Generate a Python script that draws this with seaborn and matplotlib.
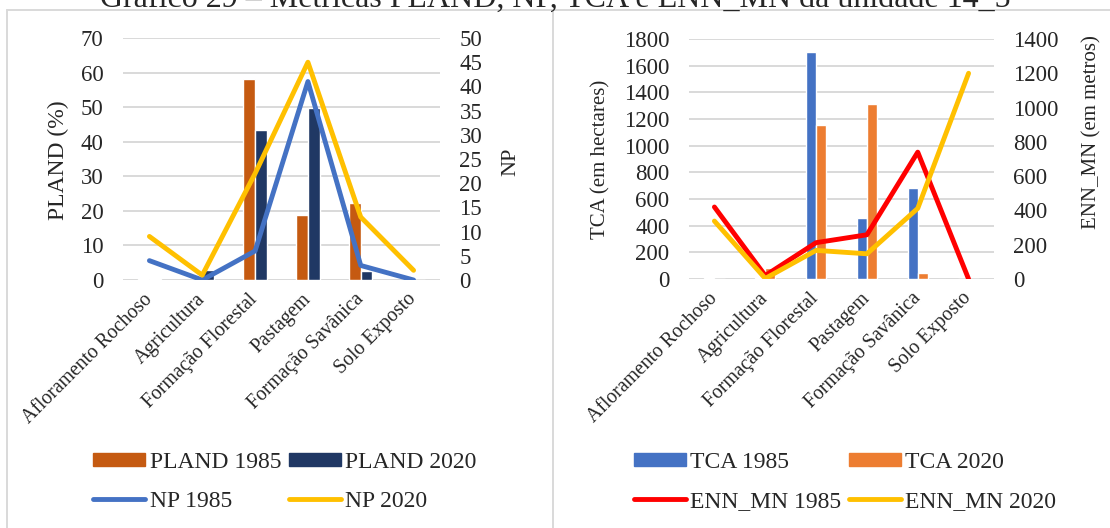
import numpy as np
import pandas as pd
import matplotlib
matplotlib.use("Agg")
import matplotlib.pyplot as plt
from matplotlib.patches import Patch
from matplotlib.lines import Line2D
import seaborn as sns

# ---- data -------------------------------------------------------------
categories = ["Afloramento Rochoso", "Agricultura", "Formação Florestal",
              "Pastagem", "Formação Savânica", "Solo Exposto"]

pland_1985 = [0.4, 0.0, 58.0, 18.8, 22.4, 0.0]
pland_2020 = [0.3, 2.8, 43.5, 49.8, 2.5, 0.0]
np_1985 = [4, 0, 6, 41, 3, 0]
np_2020 = [9, 1, 22, 45, 13, 2]

tca_1985 = [8, 5, 1705, 460, 685, 0]
tca_2020 = [3, 82, 1155, 1315, 43, 0]
enn_1985 = [420, 20, 212, 258, 740, 0]
enn_2020 = [338, 3, 167, 147, 412, 1200]

title = "Gráfico 29 – Métricas PLAND, NP, TCA e ENN_MN da unidade 14_5"

# ---- styling ------------------------------------------------------------
sns.set_theme(style="white")
plt.rcParams["font.family"] = ["Liberation Serif", "DejaVu Serif"]

C_PL85, C_PL20 = "#C55A11", "#203864"
C_BLUE, C_YEL = "#4472C4", "#FFC000"
C_ORG, C_RED = "#ED7D31", "#FF0000"
GRID = "#D9D9D9"
LW = 3.5

W, H = 1110, 528
fig = plt.figure(figsize=(W / 100, H / 100), dpi=100)


def fx(px):
    return px / W


def fy(px):
    return 1 - px / H


def long_frame(vals_a, vals_b, name_a, name_b):
    return pd.DataFrame({
        "categoria": categories * 2,
        "valor": list(vals_a) + list(vals_b),
        "serie": [name_a] * len(categories) + [name_b] * len(categories),
    })


def style_axes(ax, ax2, ymax, ystep, y2max, y2step):
    ax.set_ylim(0, ymax)
    ax.set_yticks(np.arange(0, ymax + 1e-9, ystep))
    ax2.set_ylim(0, y2max)
    ax2.set_yticks(np.arange(0, y2max + 1e-9, y2step))
    ax.set_xlim(-0.5, len(categories) - 0.5)
    ax.yaxis.grid(True, color=GRID, lw=1.4)
    ax.xaxis.grid(False)
    ax.set_axisbelow(True)
    for a in (ax, ax2):
        for s in a.spines.values():
            s.set_visible(False)
    ax.axhline(0, color=GRID, lw=1.4, zorder=0)
    ax.tick_params(axis="y", length=0, pad=14, labelsize=16.5)
    ax2.tick_params(axis="y", length=0, pad=14, labelsize=16.5)
    ax.tick_params(axis="x", length=0, pad=12)
    ax.set_xticks(range(len(categories)))
    ax.set_xticklabels(categories, rotation=45, ha="right", va="center",
                       rotation_mode="anchor", fontsize=14.2)
    ax.set_xlabel("")
    ax2.patch.set_visible(False)


xpos = np.arange(len(categories))

# ---- left panel: PLAND bars + NP lines ---------------------------------
axL = fig.add_axes([fx(123), fy(280), fx(317), 242 / H])
sns.barplot(data=long_frame(pland_1985, pland_2020, "PLAND 1985", "PLAND 2020"),
            x="categoria", y="valor", hue="serie",
            palette=[C_PL85, C_PL20], width=0.44, saturation=1,
            legend=False, ax=axL)
axL2 = axL.twinx()
sns.lineplot(x=xpos, y=np_1985, color=C_BLUE, lw=LW, ax=axL2,
             solid_capstyle="round", solid_joinstyle="round")
sns.lineplot(x=xpos, y=np_2020, color=C_YEL, lw=LW, ax=axL2,
             solid_capstyle="round", solid_joinstyle="round")
style_axes(axL, axL2, 70, 10, 50, 5)
axL.set_ylabel("PLAND (%)", fontsize=17)
axL.yaxis.set_label_coords(-0.205, 0.496)
axL2.set_ylabel("NP", fontsize=16)
axL2.yaxis.set_label_coords(1.224, 0.49)
for lab in (axL.yaxis.label, axL2.yaxis.label):
    lab.set_ha("center")
    lab.set_va("center")

# ---- right panel: TCA bars + ENN_MN lines ------------------------------
axR = fig.add_axes([fx(689), fy(279), fx(305), 240 / H])
sns.barplot(data=long_frame(tca_1985, tca_2020, "TCA 1985", "TCA 2020"),
            x="categoria", y="valor", hue="serie",
            palette=[C_BLUE, C_ORG], width=0.40, saturation=1,
            legend=False, ax=axR)
axR2 = axR.twinx()
sns.lineplot(x=xpos, y=enn_1985, color=C_RED, lw=LW, ax=axR2,
             solid_capstyle="round", solid_joinstyle="round")
sns.lineplot(x=xpos, y=enn_2020, color=C_YEL, lw=LW, ax=axR2,
             solid_capstyle="round", solid_joinstyle="round")
style_axes(axR, axR2, 1800, 200, 1400, 200)
axR.set_ylabel("TCA (em hectares)", fontsize=15)
axR.yaxis.set_label_coords(-0.289, 0.5)
axR2.set_ylabel("ENN_MN (em metros)", fontsize=15)
axR2.yaxis.set_label_coords(1.321, 0.612)
for lab in (axR.yaxis.label, axR2.yaxis.label):
    lab.set_ha("center")
    lab.set_va("center")

# ---- legends -------------------------------------------------------------
leg_kw = dict(ncol=2, frameon=False, loc="center", fontsize=17,
              handlelength=2.2, handleheight=0.45, handletextpad=0.2,
              columnspacing=0.3, labelspacing=0.75, borderpad=0)

hL = [Patch(color=C_PL85), Line2D([], [], color=C_BLUE, lw=LW, solid_capstyle="round"),
      Patch(color=C_PL20), Line2D([], [], color=C_YEL, lw=LW, solid_capstyle="round")]
fig.legend(hL, ["PLAND 1985", "NP 1985", "PLAND 2020", "NP 2020"],
           bbox_to_anchor=(fx(285), fy(482)), **leg_kw)

hR = [Patch(color=C_BLUE), Line2D([], [], color=C_RED, lw=LW, solid_capstyle="round"),
      Patch(color=C_ORG), Line2D([], [], color=C_YEL, lw=LW, solid_capstyle="round")]
fig.legend(hR, ["TCA 1985", "ENN_MN 1985", "TCA 2020", "ENN_MN 2020"],
           bbox_to_anchor=(fx(845), fy(482)), **leg_kw)

# ---- panel frames and title --------------------------------------------
for x0 in (7, 553):
    fig.add_artist(Line2D([fx(x0), fx(x0)], [0, fy(10)], color=GRID, lw=1.4,
                          transform=fig.transFigure))
fig.add_artist(Line2D([fx(7), 1], [fy(10), fy(10)], color=GRID, lw=1.4,
                      transform=fig.transFigure))

# the heading sits partly above the top edge of the canvas
fig.text(0.5, fy(7), title, ha="center", va="baseline", fontsize=23)

fig.savefig("out.png", dpi=100)
